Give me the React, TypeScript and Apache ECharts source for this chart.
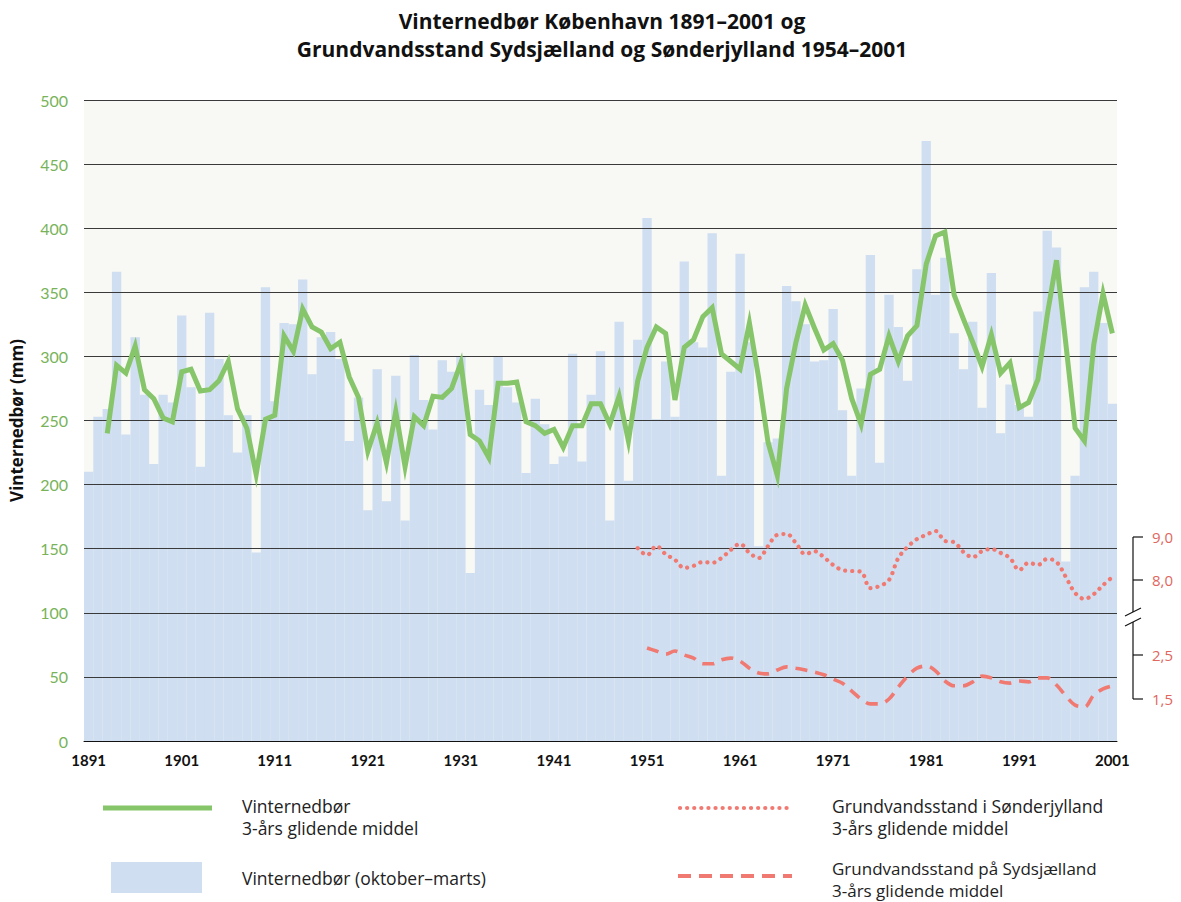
import React, { useEffect, useRef } from "react";
import * as echarts from "echarts";

// Winters 1891..2001
const years: string[] = [];
for (let y = 1891; y <= 2001; y++) years.push(String(y));

// Winter precipitation (October–March), mm
const winterRain = [
  210, 253, 259, 366, 239, 315, 270, 216, 270, 264,
  332, 276, 214, 334, 298, 254, 225, 254, 147, 354,
  265, 326, 325, 360, 286, 315, 319, 298, 234, 268,
  180, 290, 187, 285, 172, 301, 266, 243, 297, 288,
  300, 131, 274, 262, 300, 276, 264, 209, 267, 247,
  216, 222, 302, 218, 270, 304, 172, 327, 203, 313,
  408, 251, 296, 253, 374, 311, 307, 396, 207, 288,
  380, 311, 152, 233, 236, 355, 343, 325, 296, 297,
  337, 258, 207, 275, 379, 217, 348, 323, 281, 368,
  468, 348, 377, 318, 290, 327, 260, 365, 240, 278,
  262, 253, 335, 398, 385, 140, 207, 354, 366, 326,
  263,
];

// 3-year running mean
const rainMean3 = [
  null, null, 240, 293, 287, 308, 274, 267, 252, 249,
  288, 290, 273, 274, 281, 296, 259, 244, 208, 251,
  254, 316, 304, 337, 323, 319, 306, 311, 284, 268,
  226, 248, 217, 257, 214, 253, 246, 269, 268, 275,
  295, 239, 234, 221, 279, 279, 280, 249, 246, 240,
  243, 229, 246, 246, 263, 263, 247, 269, 234, 281,
  307, 323, 318, 266, 307, 313, 331, 338, 302, 296,
  290, 326, 283, 233, 207, 275, 311, 340, 322, 305,
  310, 297, 267, 247, 286, 290, 316, 296, 316, 324,
  372, 394, 397, 348, 329, 311, 292, 317, 287, 295,
  260, 264, 282, 332, 375, 310, 244, 234, 309, 349,
  318,
];

// Groundwater level, Sønderjylland (3-yr mean), from 1950
const sonderStart = 59;
const sonderjylland = [
  8.74, 8.58, 8.79, 8.6, 8.47, 8.28, 8.33, 8.42, 8.4, 8.51,
  8.7, 8.84, 8.63, 8.51, 8.79, 9.05, 9.07, 8.86, 8.6, 8.67,
  8.53, 8.35, 8.23, 8.21, 8.19, 7.81, 7.86, 8.0, 8.51, 8.77,
  8.95, 9.05, 9.14, 8.91, 8.88, 8.65, 8.53, 8.67, 8.72, 8.63,
  8.51, 8.23, 8.4, 8.35, 8.49, 8.42, 8.07, 7.7, 7.56, 7.67,
  7.88, 8.07,
];

// Groundwater level, Sydsjælland (3-yr mean), from 1951
const sydStart = 60;
const sydsjaelland = [
  2.66, 2.59, 2.52, 2.59, 2.5, 2.43, 2.3, 2.3, 2.39, 2.43,
  2.36, 2.2, 2.09, 2.07, 2.16, 2.23, 2.2, 2.16, 2.11, 2.05,
  1.95, 1.86, 1.68, 1.5, 1.39, 1.39, 1.5, 1.77, 2.02, 2.2,
  2.25, 2.14, 1.91, 1.8, 1.8, 1.89, 2.02, 1.98, 1.89, 1.86,
  1.91, 1.89, 1.98, 1.98, 1.82, 1.57, 1.36, 1.32, 1.59, 1.73,
  1.8,
];

const leftTicks = { min: 0, max: 500, interval: 50 };
const upperRightTicks = [9.0, 8.0];
const lowerRightTicks = [2.5, 1.5];

const FONT = "'Open Sans', Lato, 'DejaVu Sans', sans-serif";
const FONT_NUM = "Lato, 'Open Sans', sans-serif";
const GREEN = "#86c56a";
const BAR = "#cfdef0";
const RED = "#f07a72";
const RED_TXT = "#e0665e";

const pad = (start: number, vals: number[]) => {
  const out: (number | null)[] = [];
  for (let i = 0; i < years.length; i++) {
    const k = i - start;
    out.push(k >= 0 && k < vals.length ? vals[k] : null);
  }
  return out;
};

export default function App() {
  const ref = useRef<HTMLDivElement>(null);
  useEffect(() => {
    if (!ref.current) return;
    const chart = echarts.init(ref.current, null, { renderer: "svg" });
    const gridTop = 100;
    const gridBottomY = 741;
    const h = gridBottomY - gridTop;
    const upPx = 43;
    const upMin = 8 - (gridBottomY - 580) / upPx;
    const upMax = upMin + h / upPx;
    const loPx = 44;
    const loMin = 1.5 - (gridBottomY - 699) / loPx;
    const loMax = loMin + h / loPx;

    const option: any = {
      animation: false,
      backgroundColor: "#ffffff",
      title: {
        text: "Vinternedbør København 1891–2001 og\nGrundvandsstand Sydsjælland og Sønderjylland 1954–2001",
        left: 597,
        top: 2,
        textAlign: "center",
        textStyle: { fontFamily: FONT, fontSize: 21, fontWeight: "bold", color: "#111", lineHeight: 28 },
      },
      grid: {
        left: 82,
        right: 1181 - 1117,
        top: gridTop,
        bottom: 902 - gridBottomY,
        show: true,
        backgroundColor: "#f8f8f4",
        borderWidth: 0,
      },
      xAxis: {
        type: "category",
        data: years,
        boundaryGap: true,
        z: 4,
        axisLine: { show: true, lineStyle: { color: "#111", width: 1 } },
        axisTick: { show: false },
        axisLabel: {
          interval: 9,
          margin: 11,
          fontFamily: FONT_NUM,
          fontSize: 15,
          fontWeight: "bold",
          color: "#111",
        },
      },
      yAxis: [
        {
          type: "value",
          min: leftTicks.min,
          max: leftTicks.max,
          interval: leftTicks.interval,
          z: 3,
          name: "Vinternedbør (mm)",
          nameLocation: "middle",
          nameGap: 59,
          nameTextStyle: { fontFamily: FONT, fontSize: 17, fontWeight: "bold", color: "#111" },
          axisLine: { show: false },
          axisTick: { show: false },
          axisLabel: { margin: 16, fontFamily: FONT_NUM, fontSize: 16, color: "#78b35a" },
          splitLine: { show: true, lineStyle: { color: "#3a3a3a", width: 1 } },
        },
        { type: "value", min: upMin, max: upMax, show: false, splitLine: { show: false } },
        { type: "value", min: loMin, max: loMax, show: false, splitLine: { show: false } },
      ],
      series: [
        {
          name: "Vinternedbør (oktober–marts)",
          type: "bar",
          data: winterRain,
          barCategoryGap: "0%",
          itemStyle: { color: BAR },
          z: 2,
        },
        {
          name: "Vinternedbør 3-års glidende middel",
          type: "line",
          data: rainMean3,
          symbol: "none",
          z: 6,
          lineStyle: { color: GREEN, width: 5, join: "miter", miterLimit: 6 },
        },
        {
          name: "Grundvandsstand i Sønderjylland",
          type: "line",
          yAxisIndex: 1,
          data: pad(sonderStart, sonderjylland),
          symbol: "none",
          smooth: 0.35,
          z: 6,
          lineStyle: { color: RED, width: 4.2, type: [0.1, 7], cap: "round" },
        },
        {
          name: "Grundvandsstand på Sydsjælland",
          type: "line",
          yAxisIndex: 2,
          data: pad(sydStart, sydsjaelland),
          symbol: "none",
          smooth: 0.35,
          z: 6,
          lineStyle: { color: RED, width: 3.6, type: [12, 8], cap: "butt" },
        },
      ],
    };
    chart.setOption(option);

    const py = (axis: number, v: number) => chart.convertToPixel({ yAxisIndex: axis } as any, v) as number;
    const ax = 1133;
    const yU = upperRightTicks.map((v) => py(1, v));
    const yL = lowerRightTicks.map((v) => py(2, v));
    const brk1 = py(1, 8.0) + 32;
    const brk2 = py(2, 2.5) - 33;
    const lineStyle = { stroke: "#111", lineWidth: 1.2 };
    const g: any[] = [];
    g.push({ type: "line", shape: { x1: ax, y1: yU[0], x2: ax, y2: brk1 }, style: lineStyle });
    g.push({ type: "line", shape: { x1: ax, y1: brk2, x2: ax, y2: yL[1] }, style: lineStyle });
    g.push({ type: "line", shape: { x1: ax - 8, y1: brk1 + 4, x2: ax + 8, y2: brk1 - 4 }, style: lineStyle });
    g.push({ type: "line", shape: { x1: ax - 8, y1: brk2 + 4, x2: ax + 8, y2: brk2 - 4 }, style: lineStyle });
    const tickText = (v: number, y: number) => ({
      type: "text",
      x: ax + 19,
      y,
      style: {
        text: v.toFixed(1).replace(".", ","),
        font: `15px ${FONT}`,
        fill: RED_TXT,
        textVerticalAlign: "middle",
        verticalAlign: "middle",
      },
    });
    upperRightTicks.forEach((v, i) => {
      g.push({ type: "line", shape: { x1: ax, y1: yU[i], x2: ax + 10, y2: yU[i] }, style: lineStyle });
      g.push(tickText(v, yU[i]));
    });
    lowerRightTicks.forEach((v, i) => {
      g.push({ type: "line", shape: { x1: ax, y1: yL[i], x2: ax + 10, y2: yL[i] }, style: lineStyle });
      g.push(tickText(v, yL[i]));
    });

    // legend
    const txt = (x: number, top: number, s: string, size: number) => ({
      type: "text",
      x,
      y: top,
      style: {
        text: s,
        font: `${size}px ${FONT}`,
        fill: "#222",
        lineHeight: 22,
        verticalAlign: "top",
        textVerticalAlign: "top",
      },
    });
    g.push({ type: "line", shape: { x1: 103, y1: 808, x2: 212, y2: 808 }, style: { stroke: GREEN, lineWidth: 5 } });
    g.push(txt(242, 795, "Vinternedbør\n3-års glidende middel", 17.5));
    g.push({ type: "rect", shape: { x: 111, y: 862, width: 91, height: 31 }, style: { fill: BAR } });
    g.push(txt(242, 867, "Vinternedbør (oktober–marts)", 17.5));
    g.push({
      type: "line",
      shape: { x1: 680, y1: 808, x2: 790, y2: 808 },
      style: { stroke: RED, lineWidth: 4.2, lineDash: [0.1, 7], lineCap: "round" },
    });
    g.push(txt(832, 795, "Grundvandsstand i Sønderjylland\n3-års glidende middel", 17.5));
    g.push({
      type: "line",
      shape: { x1: 678, y1: 876, x2: 792, y2: 876 },
      style: { stroke: RED, lineWidth: 4, lineDash: [13, 8] },
    });
    g.push(txt(832, 857, "Grundvandsstand på Sydsjælland\n3-års glidende middel", 17));

    chart.setOption({ graphic: g });
    return () => chart.dispose();
  }, []);
  return (
    <div
      ref={ref}
      style={{ position: "fixed", left: 0, top: 0, width: 1181, height: 902, background: "#fff" }}
    />
  );
}
